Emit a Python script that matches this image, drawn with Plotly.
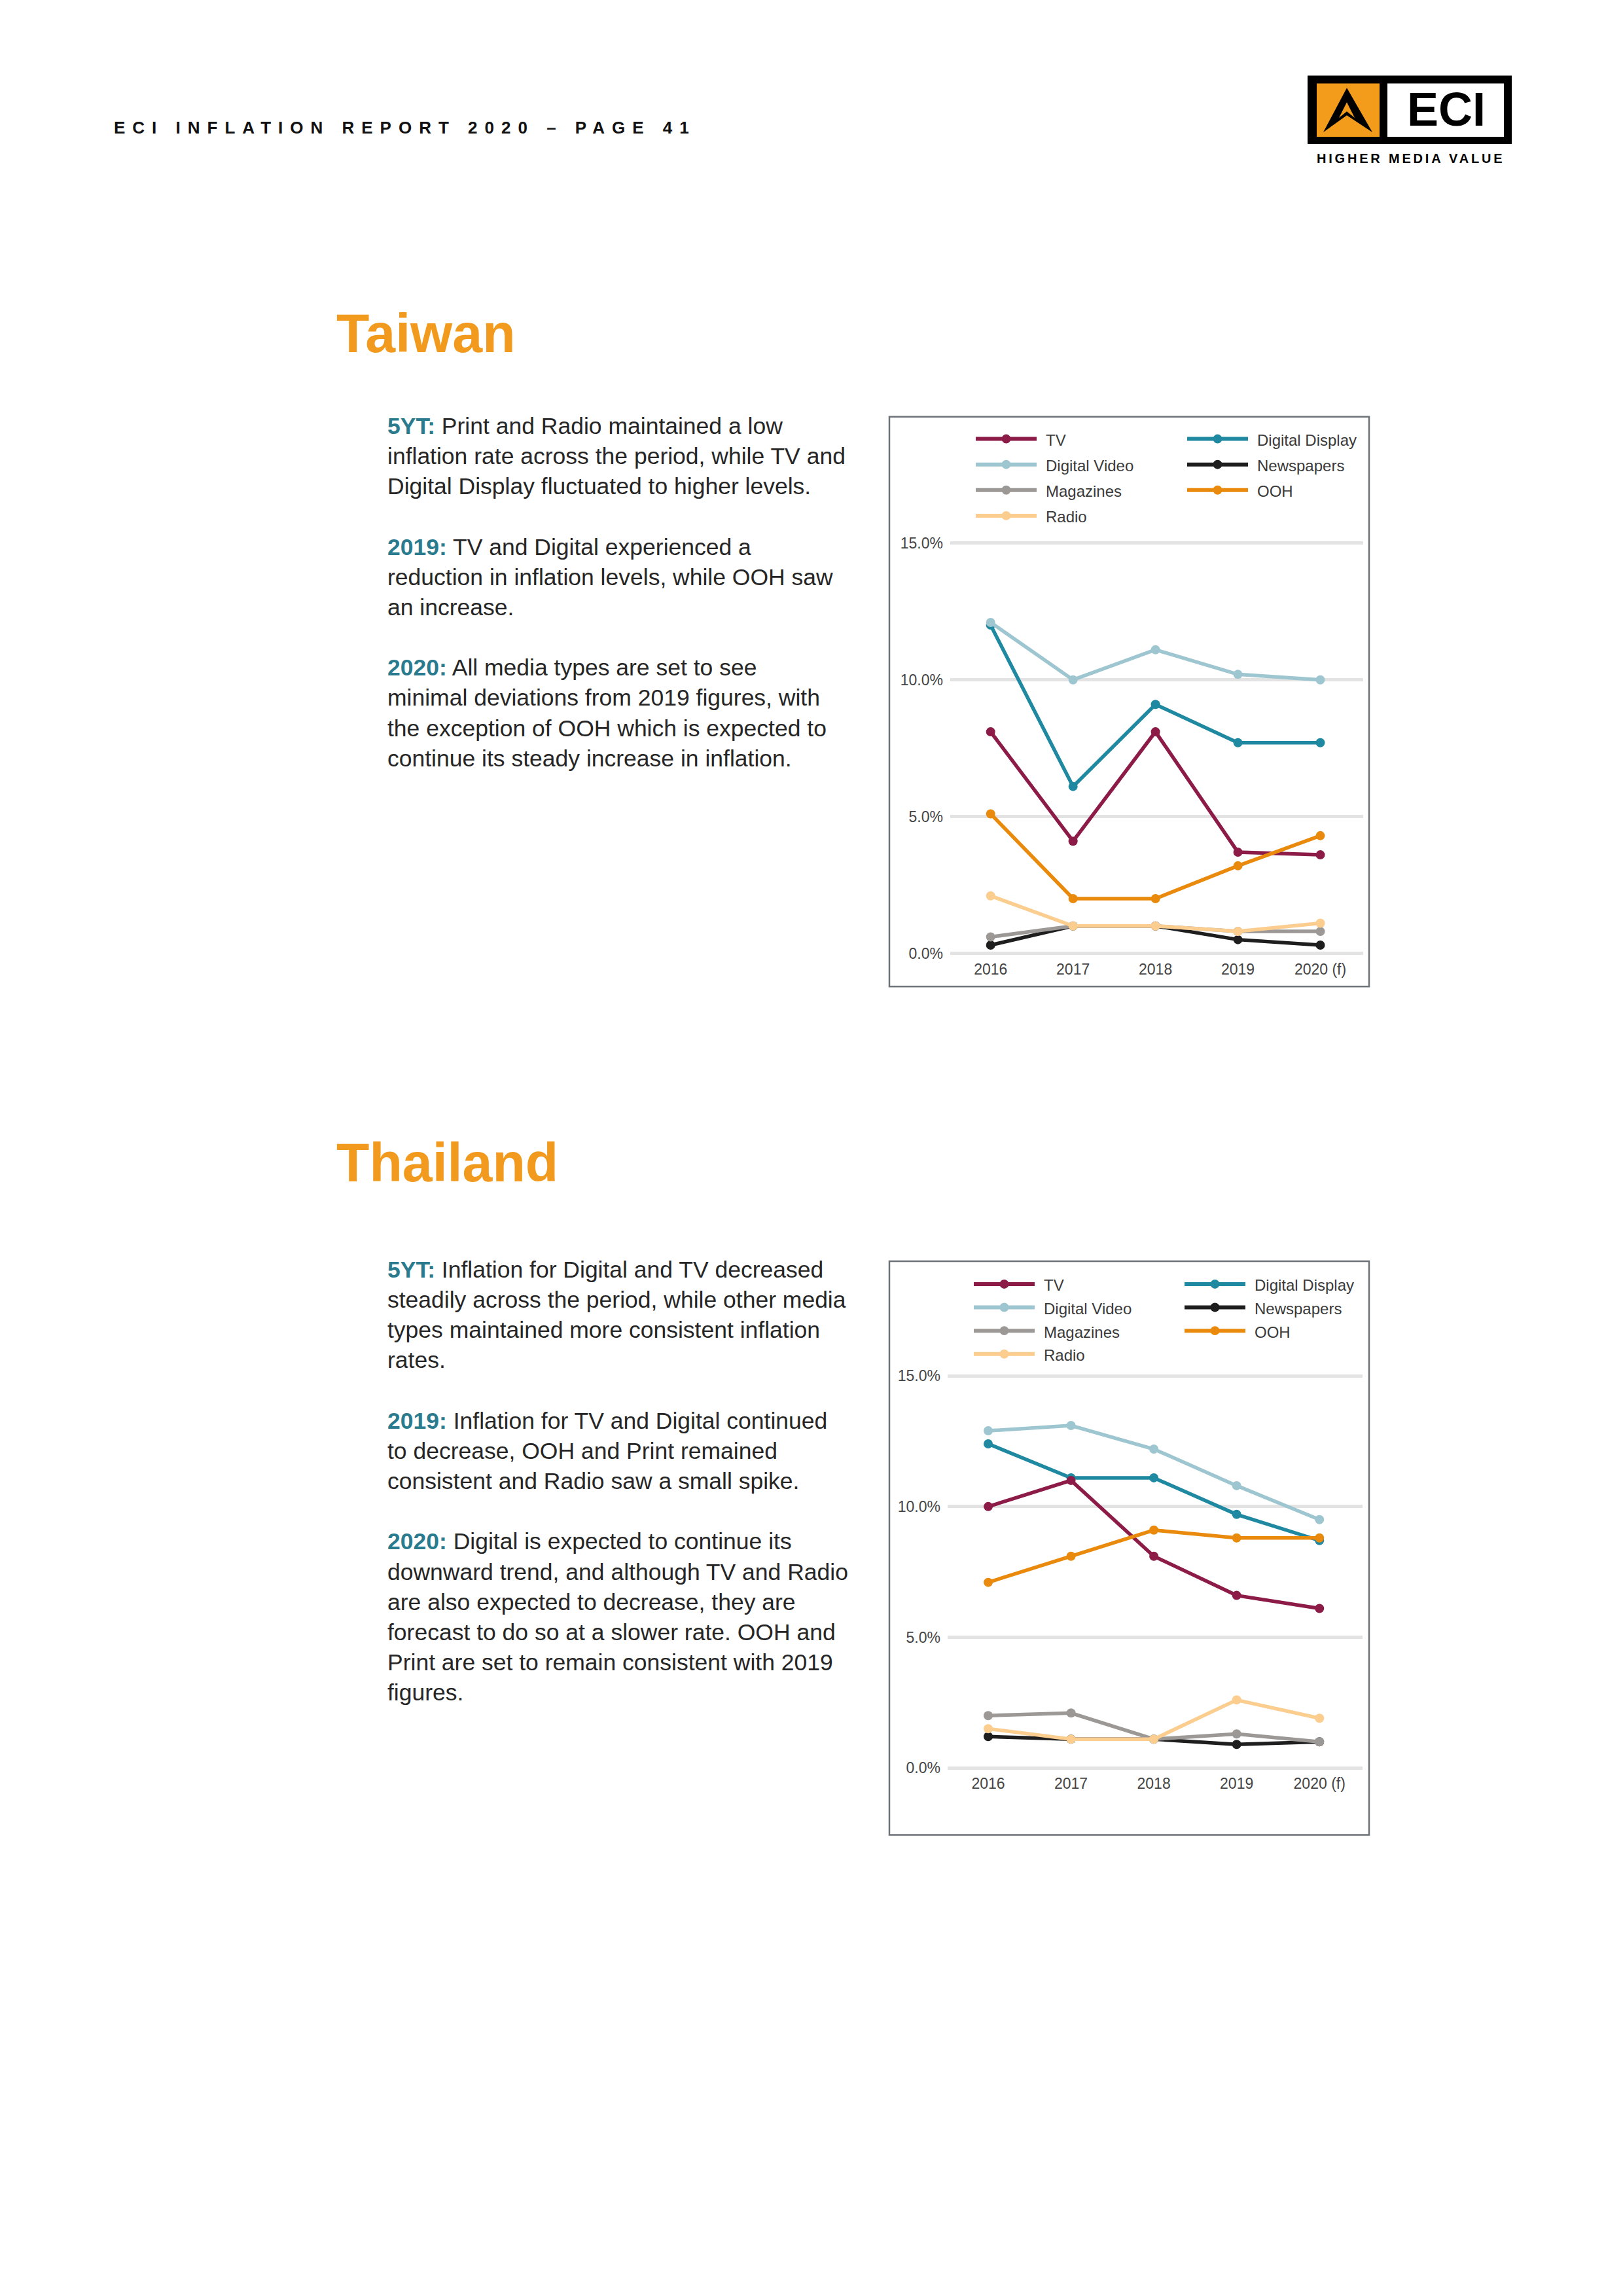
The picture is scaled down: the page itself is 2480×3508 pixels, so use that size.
import plotly.graph_objects as go

W, H = 2480, 3508

# ---------------- data ----------------
years = ["2016", "2017", "2018", "2019", "2020 (f)"]

taiwan_tv = [8.1, 4.1, 8.1, 3.7, 3.6]
taiwan_digital_display = [12.0, 6.1, 9.1, 7.7, 7.7]
taiwan_digital_video = [12.1, 10.0, 11.1, 10.2, 10.0]
taiwan_newspapers = [0.3, 1.0, 1.0, 0.5, 0.3]
taiwan_magazines = [0.6, 1.0, 1.0, 0.8, 0.8]
taiwan_ooh = [5.1, 2.0, 2.0, 3.2, 4.3]
taiwan_radio = [2.1, 1.0, 1.0, 0.8, 1.1]

thailand_tv = [10.0, 11.0, 8.1, 6.6, 6.1]
thailand_digital_display = [12.4, 11.1, 11.1, 9.7, 8.7]
thailand_digital_video = [12.9, 13.1, 12.2, 10.8, 9.5]
thailand_newspapers = [1.2, 1.1, 1.1, 0.9, 1.0]
thailand_magazines = [2.0, 2.1, 1.1, 1.3, 1.0]
thailand_ooh = [7.1, 8.1, 9.1, 8.8, 8.8]
thailand_radio = [1.5, 1.1, 1.1, 2.6, 1.9]

y_tick_vals = [0, 5, 10, 15]
y_tick_text = ["0.0%", "5.0%", "10.0%", "15.0%"]

legend_col1 = ["TV", "Digital Video", "Magazines", "Radio"]
legend_col2 = ["Digital Display", "Newspapers", "OOH"]

colors = {
    "TV": "#8C1C47",
    "Digital Display": "#1F89A1",
    "Digital Video": "#9EC6D0",
    "Newspapers": "#1E1E1E",
    "Magazines": "#9C9896",
    "OOH": "#E98A0C",
    "Radio": "#FBCD8F",
}

draw_order = ["Digital Display", "Digital Video", "TV", "OOH", "Newspapers", "Magazines", "Radio"]

taiwan = {
    "TV": taiwan_tv, "Digital Display": taiwan_digital_display,
    "Digital Video": taiwan_digital_video, "Newspapers": taiwan_newspapers,
    "Magazines": taiwan_magazines, "OOH": taiwan_ooh, "Radio": taiwan_radio,
}
thailand = {
    "TV": thailand_tv, "Digital Display": thailand_digital_display,
    "Digital Video": thailand_digital_video, "Newspapers": thailand_newspapers,
    "Magazines": thailand_magazines, "OOH": thailand_ooh, "Radio": thailand_radio,
}

ORANGE = "#F29A1D"
TEAL = "#2B7B8F"
FONT = "Liberation Sans, Arial, sans-serif"


def px(x):
    return x / W


def py(y):
    return 1 - y / H


fig = go.Figure()

for name in draw_order:
    fig.add_trace(go.Scatter(
        x=years, y=taiwan[name], name=name, mode="lines+markers",
        line=dict(color=colors[name], width=5.5),
        marker=dict(color=colors[name], size=14),
        xaxis="x", yaxis="y", showlegend=False, hoverinfo="skip",
    ))
for name in draw_order:
    fig.add_trace(go.Scatter(
        x=years, y=thailand[name], name=name, mode="lines+markers",
        line=dict(color=colors[name], width=5.5),
        marker=dict(color=colors[name], size=14),
        xaxis="x2", yaxis="y2", showlegend=False, hoverinfo="skip",
    ))

# chart geometry (pixels)
charts = [
    dict(frame=(1359, 631, 2092, 1506), xdom=(1452, 2083), y0=1455, y15=825,
         leg_row0=665, leg_dy=39.3, leg_c1=1491, leg_c2=1814),
    dict(frame=(1359, 1928, 2092, 2809), xdom=(1448, 2082), y0=2706, y15=2104,
         leg_row0=1963, leg_dy=35.8, leg_c1=1488, leg_c2=1810),
]
yr = (-0.1, 15.1)

layout_axes = {}
for i, c in enumerate(charts):
    per = (c["y0"] - c["y15"]) / 15.0
    ybot = c["y0"] - per * yr[0]
    ytop = c["y0"] - per * yr[1]
    sfx = "" if i == 0 else "2"
    layout_axes["xaxis" + sfx] = dict(
        domain=[px(c["xdom"][0]), px(c["xdom"][1])],
        anchor="y" + sfx, type="category", categoryarray=years,
        range=[-0.49, 4.52], showgrid=False, zeroline=False, showline=False,
        ticks="", tickfont=dict(family=FONT, size=23, color="#444444"),
        ticklabelstandoff=4, fixedrange=True,
    )
    layout_axes["yaxis" + sfx] = dict(
        domain=[py(ybot), py(ytop)], anchor="x" + sfx,
        range=list(yr), tickvals=y_tick_vals, ticktext=y_tick_text,
        showgrid=True, gridcolor="#E3E3E3", gridwidth=5, zeroline=False,
        showline=False, ticks="", tickfont=dict(family=FONT, size=23, color="#444444"),
        ticklabelstandoff=10, fixedrange=True,
    )

shapes = []
annotations = []

for c in charts:
    x0, y0, x1, y1 = c["frame"]
    shapes.append(dict(type="rect", xref="paper", yref="paper",
                       x0=px(x0), x1=px(x1), y0=py(y1), y1=py(y0),
                       line=dict(color="#6C7278", width=2.5), fillcolor="rgba(0,0,0,0)"))
    for col_items, cx in ((legend_col1, c["leg_c1"]), (legend_col2, c["leg_c2"])):
        for r, name in enumerate(col_items):
            yy = c["leg_row0"] + r * c["leg_dy"]
            shapes.append(dict(type="line", xref="paper", yref="paper",
                               x0=px(cx), x1=px(cx + 93), y0=py(yy), y1=py(yy),
                               line=dict(color=colors[name], width=6)))
            mx = cx + 46.5
            rr = 7
            shapes.append(dict(type="circle", xref="paper", yref="paper",
                               x0=px(mx - rr), x1=px(mx + rr), y0=py(yy + rr), y1=py(yy - rr),
                               fillcolor=colors[name], line=dict(width=0)))
            annotations.append(dict(xref="paper", yref="paper", x=px(cx + 105), y=py(yy + 2),
                                    xanchor="left", yanchor="middle", showarrow=False,
                                    text=name, font=dict(family=FONT, size=24, color="#3A3A3A")))

# ---------------- page texts ----------------
annotations.append(dict(
    xref="paper", yref="paper", x=px(172), y=py(187), xanchor="left", yanchor="middle",
    showarrow=False,
    text="<span style='letter-spacing:11px'><b>ECI INFLATION REPORT 2020 \u2013 PAGE 41</b></span>",
    font=dict(family=FONT, size=26, color="#111111")))

annotations.append(dict(xref="paper", yref="paper", x=px(512), y=py(503), xanchor="left",
                        yanchor="middle", showarrow=False, text="<b>Taiwan</b>",
                        font=dict(family=FONT, size=82.5, color=ORANGE)))
annotations.append(dict(xref="paper", yref="paper", x=px(512), y=py(1776), xanchor="left",
                        yanchor="middle", showarrow=False, text="<b>Thailand</b>",
                        font=dict(family=FONT, size=82.5, color=ORANGE)))


def lab(t):
    return "<span style='color:%s'><b>%s</b></span>" % (TEAL, t)


taiwan_text = "<br>".join([
    lab("5YT:") + " Print and Radio maintained a low",
    "inflation rate across the period, while TV and",
    "Digital Display fluctuated to higher levels.",
    " ",
    lab("2019:") + " TV and Digital experienced a",
    "reduction in inflation levels, while OOH saw",
    "an increase.",
    " ",
    lab("2020:") + " All media types are set to see",
    "minimal deviations from 2019 figures, with",
    "the exception of OOH which is expected to",
    "continue its steady increase in inflation.",
])
thailand_text = "<br>".join([
    lab("5YT:") + " Inflation for Digital and TV decreased",
    "steadily across the period, while other media",
    "types maintained more consistent inflation",
    "rates.",
    " ",
    lab("2019:") + " Inflation for TV and Digital continued",
    "to decrease, OOH and Print remained",
    "consistent and Radio saw a small spike.",
    " ",
    lab("2020:") + " Digital is expected to continue its",
    "downward trend, and although TV and Radio",
    "are also expected to decrease, they are",
    "forecast to do so at a slower rate. OOH and",
    "Print are set to remain consistent with 2019",
    "figures.",
])
annotations.append(dict(xref="paper", yref="paper", x=px(590), y=py(901), xanchor="left",
                        yanchor="middle", align="left", showarrow=False, text=taiwan_text,
                        font=dict(family=FONT, size=35.5, color="#262626")))
annotations.append(dict(xref="paper", yref="paper", x=px(590), y=py(2266), xanchor="left",
                        yanchor="middle", align="left", showarrow=False, text=thailand_text,
                        font=dict(family=FONT, size=35.5, color="#262626")))

# ---------------- logo ----------------
LY = -6
shapes.append(dict(type="rect", xref="paper", yref="paper", x0=px(1998), x1=px(2310),
                   y0=py(218 + LY), y1=py(113 + LY), fillcolor="#000000", line=dict(width=0)))
shapes.append(dict(type="rect", xref="paper", yref="paper", x0=px(2012), x1=px(2108),
                   y0=py(207 + LY), y1=py(125 + LY), fillcolor="#F39C1B", line=dict(width=0)))
shapes.append(dict(type="rect", xref="paper", yref="paper", x0=px(2120), x1=px(2298),
                   y0=py(207 + LY), y1=py(125 + LY), fillcolor="#FFFFFF", line=dict(width=0)))


def path(pts):
    return "M " + " L ".join("%f,%f" % (px(a), py(b + LY)) for a, b in pts) + " Z"


shapes.append(dict(type="path", xref="paper", yref="paper",
                   path=path([(2022, 200), (2058, 132), (2097, 200), (2058, 174)]),
                   fillcolor="#000000", line=dict(width=0)))
shapes.append(dict(type="path", xref="paper", yref="paper",
                   path=path([(2046, 178), (2058, 154), (2070, 178), (2058, 168)]),
                   fillcolor="#F39C1B", line=dict(width=0)))
annotations.append(dict(xref="paper", yref="paper", x=px(2210), y=py(165 + LY), xanchor="center",
                        yanchor="middle", showarrow=False, text="<b>ECI</b>",
                        font=dict(family=FONT, size=72, color="#000000")))
annotations.append(dict(xref="paper", yref="paper", x=px(2155), y=py(240 + LY), xanchor="center",
                        yanchor="middle", showarrow=False,
                        text="<span style='letter-spacing:3.8px'><b>HIGHER MEDIA VALUE</b></span>",
                        font=dict(family=FONT, size=20, color="#000000")))

fig.update_layout(
    width=W, height=H, margin=dict(l=0, r=0, t=0, b=0),
    paper_bgcolor="#FFFFFF", plot_bgcolor="#FFFFFF", showlegend=False,
    shapes=shapes, annotations=annotations, **layout_axes,
)

fig.write_html(
    "out.html",
    config={"displayModeBar": False, "staticPlot": True},
    post_script="document.documentElement.style.margin='0';document.body.style.margin='0';document.body.style.padding='0';",
)
